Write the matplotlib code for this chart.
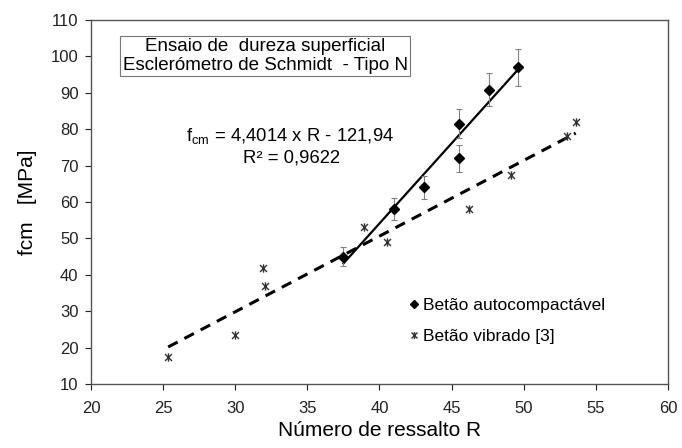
# grafico fcm vs numero de ressalto (esclerometro)
import numpy as np
import matplotlib
matplotlib.use("Agg")
import matplotlib.pyplot as plt
from matplotlib.path import Path

plt.rcParams['font.family'] = ['Liberation Sans', 'DejaVu Sans']

# betao autocompactavel (media e desvio)
r_bac = [37.5, 41.0, 43.1, 45.5, 45.5, 47.6, 49.6]
f_bac = [45.0, 58.0, 64.0, 81.5, 72.0, 90.8, 97.0]
err_bac = [2.5, 3.0, 3.2, 4.0, 3.7, 4.5, 5.0]

# betao vibrado [3]
r_bv = [25.35, 30.0, 31.9, 32.05, 38.9, 40.5, 46.2, 49.1, 53.0, 53.6]
f_bv = [17.5, 23.5, 42.0, 37.0, 53.0, 49.0, 58.0, 67.5, 78.0, 82.0]

# recta de regressao (BAC) indicada no grafico
slope_bac, icpt_bac = 4.4014, -121.94

x_ticks = [20, 25, 30, 35, 40, 45, 50, 55, 60]
y_ticks = [10, 20, 30, 40, 50, 60, 70, 80, 90, 100, 110]

# marcador tipo "estrela" do excel (x com traco vertical)
star = Path([(-1, -1), (1, 1), (-1, 1), (1, -1), (0, -1.2), (0, 1.2)],
            [Path.MOVETO, Path.LINETO, Path.MOVETO, Path.LINETO, Path.MOVETO, Path.LINETO])

fig = plt.figure(figsize=(6.82, 4.48), dpi=100)
ax = fig.add_axes([0.1334, 0.1429, 0.9795 - 0.1334, 0.9554 - 0.1429])

# linhas de tendencia
xb = np.array([min(r_bac), max(r_bac)])
ax.plot(xb, slope_bac * xb + icpt_bac, color='black', lw=1.6, zorder=2)

p = np.polyfit(r_bv, f_bv, 1)
xv = np.array([min(r_bv), max(r_bv)])
ax.plot(xv, np.polyval(p, xv), color='black', lw=2.2, ls=(0, (3.5, 2.5)), zorder=2)

# pontos
ax.errorbar(r_bac, f_bac, yerr=err_bac, fmt='none', ecolor='#808080',
            elinewidth=0.8, capsize=2, capthick=0.8, zorder=3)
ax.plot(r_bac, f_bac, ls='none', marker='D', ms=5, color='black', zorder=4,
        label='Betão autocompactável')
ax.plot(r_bv, f_bv, ls='none', marker=star, ms=6, mew=1.0, color='#333333',
        zorder=4, label='Betão vibrado [3]')

ax.set_xlim(20, 60)
ax.set_ylim(10, 110)
ax.set_xticks(x_ticks)
ax.set_yticks(y_ticks)
ax.tick_params(direction='out', length=4, width=0.8, labelsize=12, colors='#222222')
ax.tick_params(axis='x', pad=8)
ax.tick_params(axis='y', pad=5)
for s in ax.spines.values():
    s.set_color('#555555')
    s.set_linewidth(1.0)

ax.set_xlabel('Número de ressalto R', fontsize=15, labelpad=4)
ax.set_ylabel('fcm   [MPa]', fontsize=15, labelpad=10)

# caixa de titulo
ax.text(0.3016, 0.901, 'Ensaio de  dureza superficial\nEsclerómetro de Schmidt  - Tipo N',
        transform=ax.transAxes, ha='center', va='center', fontsize=13.5, linespacing=1.1,
        bbox=dict(boxstyle='square,pad=0.15', fc='white', ec='#777777', lw=0.8))

# equacao
ax.text(0.345, 0.680, '$\\mathregular{f_{cm}}$ = 4,4014 x R - 121,94',
        transform=ax.transAxes, ha='center', va='center', fontsize=13.3)
ax.text(0.347, 0.622, 'R² = 0,9622',
        transform=ax.transAxes, ha='center', va='center', fontsize=13.3)

ax.legend(loc='center left', bbox_to_anchor=(0.549, 0.173), frameon=False, fontsize=12.5,
          handlelength=0.7, handletextpad=0.2, labelspacing=0.95, borderpad=0,
          borderaxespad=0, markerscale=0.85)

fig.savefig('out.png', dpi=100)
